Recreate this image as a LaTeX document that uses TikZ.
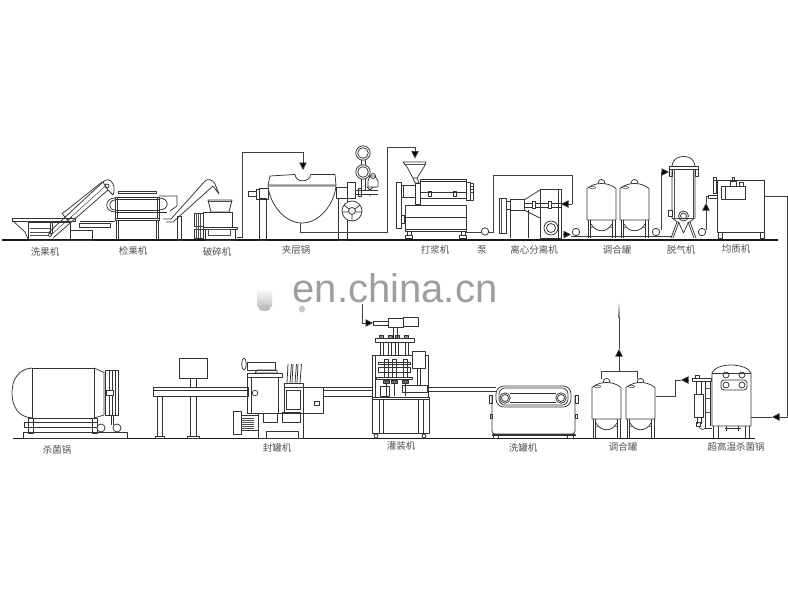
\documentclass[tikz,border=0pt]{standalone}
\usepackage{fontspec}
\setmainfont{Liberation Sans}
\newfontfamily\cjk{Noto Sans CJK SC}
\usetikzlibrary{arrows.meta}
\tikzset{
  mach/.style={draw=black!80,line width=0.75pt,line join=round},
  thin mach/.style={draw=black!70,line width=0.5pt},
  ground/.style={draw=black!90,line width=1.5pt},
  pipe/.style={draw=black!75,line width=0.75pt},
  flow/.style={pipe,-{Triangle[length=7.5pt,width=7.5pt,fill=black]}},
  lab/.style={font=\cjk\fontsize{9.5}{10}\selectfont,text=black!68,inner sep=0pt},
  wmark/.style={font=\fontsize{40}{40}\selectfont,text=black!38,inner sep=0pt,anchor=base},
}
\newcommand{\fruittank}[3]{%
 \begin{scope}[shift={(#1,#2)}]
  \draw[mach,fill=white] (11,1) -- (12,-2.5) .. controls (13,-4) and (16,-4) .. (17,-2.5) -- (18,1);
  \draw[mach,fill=white] (0,5.5) .. controls (5,1.5) and (10,0.5) .. (14.5,0.5) .. controls (19,0.5) and (24,1.5) .. (29,5.5) -- (29,37) -- (0,37) -- cycle;
  \draw[thin mach] (5.5,4.5) ellipse[x radius=3.2,y radius=1.2];
  \draw[mach] (1,37) -- (1,#3) (3.5,37) -- (3.5,#3) (25.5,37) -- (25.5,#3) (28,37) -- (28,#3);
  \draw[mach] (4,41) .. controls (9,50) and (20,50) .. (25,41);
  \draw[thin mach] (3.5,45) -- (6,44) (25.5,45) -- (23,44);
 \end{scope}}
\newcommand{\smallpump}[2]{\draw[mach,fill=white] (#1,#2) circle[radius=3.7];}
\begin{document}
\begin{tikzpicture}[x=1pt,y=-1pt]
\useasboundingbox (0,0) rectangle (788,600);
\fill[white] (0,0) rectangle (788,600);

% watermark and smudges
\node[wmark] (wm) at (395,302) {en.china.cn};
\shade[top color=white,bottom color=black!22] (257,288) rectangle (272,306);
\fill[black!25] (264.5,308) ellipse[x radius=6,y radius=3];
\fill[black!22] (302,309) ellipse[x radius=3,y radius=3.5];

% ===== top ground
\draw[ground] (2,240) -- (778,240);

% ===== washer
\draw[mach] (12,218) rectangle (75,221);
\draw[mach] (13,221) -- (25,232) -- (28,239);
\draw[mach] (28,222) rectangle (70,240);
\draw[thin mach] (30,228) -- (50,228) (30,232) -- (50,232) (30,235) -- (50,235);
\draw[mach] (50,221) rectangle (52.5,233);
\draw[mach] (48,233) -- (103,182) (53,238) -- (108,190);
\draw[thin mach] (50.5,235.5) -- (105.5,186);
\draw[mach] (67,210) -- (102,182);
\draw[mach] (67,210) -- (62,213.5) -- (68,220.5) -- (72,217);
\draw[mach,fill=white] (103,182) .. controls (106,178.5) and (111,179) .. (113,184) .. controls (115,188) and (114,192) .. (113,195) -- (108,190) -- cycle;
\draw[mach] (107,186) circle[radius=2];
\draw[mach,fill=white] (50,235) circle[radius=1.8];
\draw[mach] (70,230) rectangle (92,240);
\draw[mach] (79,223.5) rectangle (110,227);
\draw[mach] (90,221) -- (115,221) (80,221.5) -- (90,221.5);

% ===== inspector
\draw[mach] (118,191) rectangle (156,193);
\draw[mach] (115,197) rectangle (159,218);
\draw[mach] (115,199.5) -- (159,199.5) (115,210) -- (159,210) (115,212) -- (159,212);
\draw[mach] (117,197) -- (117,218) (157,197) -- (157,218);
\draw[mach] (115,218) rectangle (159,220.5);
\draw[mach] (116,220.5) -- (116,240) (118,220.5) -- (118,240) (156,220.5) -- (156,240) (158,220.5) -- (158,240);
\draw[mach] (115,198) .. controls (104,198) and (104,212) .. (115,212);
\draw[mach] (115,200) .. controls (108,200) and (108,210) .. (115,210);
\draw[mach] (159,198) .. controls (170,198) and (170,210) .. (159,210);
\draw[mach] (159,196) -- (177,196) -- (177,206) -- (170,211);
\draw[mach] (159,212) -- (167,212);

% ===== conveyor 3
\draw[mach] (163,219) -- (171,219) -- (205,181) (166,222) -- (173,222) -- (213,186);
\draw[mach] (205,181) .. controls (208,178) and (213,180) .. (215,184) -- (219,194) -- (213,186);
\draw[mach] (177,216) rectangle (181,240);

% ===== crusher
\draw[mach] (208,200) -- (232,200) -- (229,212) -- (211,212) -- cycle;
\draw[thin mach] (208,201.5) -- (232,201.5);
\draw[mach] (203,212) rectangle (232,227);
\draw[mach] (203,227) rectangle (237,229.5);
\draw[mach] (205,229.5) rectangle (235,240);
\draw[thin mach] (208,229.5) rectangle (230,235);
\draw[mach] (194,213) rectangle (203,226);
\draw[mach] (194,229) rectangle (203,238);
\draw[thin mach] (196,213) -- (196,238) (198,213) -- (198,238) (200,213) -- (200,238);

% ===== pipe crusher -> kettle
\coordinate (crushout) at (236.5,237);
\coordinate (kettlein) at (303,170);
\draw[pipe] (crushout) -- (242,237) -- (242,152) -- (303,152);
\draw[flow] (303,152) -- (kettlein);

% ===== kettle
\draw[mach] (259,198) rectangle (266,240);
\draw[mach] (338,198) rectangle (347,240);
\draw[mach,fill=white] (268,186) .. controls (270,205) and (285,223) .. (302,223) .. controls (319,223) and (334,205) .. (336,186) -- cycle;
\draw[mach,fill=white] (268,185) -- (270,176) -- (295,174.5) .. controls (296,183) and (309,183) .. (311,174.5) -- (335,174.5) -- (336,185) -- cycle;
\draw[mach] (248,191) rectangle (256,196);
\draw[mach] (256,189) rectangle (259,199);
\draw[mach] (259,188) rectangle (268,199);
\draw[mach] (336,187) rectangle (347,198);
\draw[mach] (347,182) rectangle (355,198);
\draw[mach,fill=white] (352,211) circle[radius=10];
\draw[mach] (352,211) circle[radius=3.5];
\draw[mach] (344,205) -- (349,209) (360,205) -- (355,209) (352,221) -- (352,214.5) (342,212) -- (348.5,212) (362,212) -- (355.5,212);

% gauges and valves
\draw[mach] (363,153) circle[radius=7.2];
\draw[mach] (363,153) circle[radius=5.3];
\draw[mach] (363,172) circle[radius=7.2];
\draw[mach] (363,172) circle[radius=5.3];
\draw[mach] (361,160) -- (361,165) (365,160) -- (365,165);
\draw[mach] (361,179) -- (361,190) (365,179) -- (365,190);
\draw[mach] (355,190) -- (378,190) (355,194) -- (378,194);
\draw[mach] (358,188) rectangle (361,196);
\draw[mach] (367,187) -- (370,190) -- (373,187) -- (376,187) (370,194) -- (370,196);
\draw[mach,fill=white] (370,176) -- (375,176) -- (378,181) -- (378,187) -- (368,187) -- (368,181) -- cycle;
\draw[mach] (373,176) circle[radius=2.5];

% ===== pipe kettle -> pulper
\coordinate (kettleout) at (300,223);
\coordinate (pulperin) at (415,158.5);
\draw[pipe] (kettleout) -- (300,232) -- (387,232) -- (387,147) -- (415,147);
\draw[flow] (415,147) -- (pulperin);

% ===== pulper
\draw[mach,fill=white] (403,162) -- (426,162) -- (424,167) -- (417,178) -- (413,178) -- (407,167) -- cycle;
\draw[thin mach] (403.5,164) -- (425.5,164);
\draw[mach] (413,178) -- (415,183) -- (419,183) -- (417,178);
\draw[mach] (420,179) rectangle (466,198);
\draw[mach] (420,181.5) -- (466,181.5) (420,192) -- (466,192);
\draw[mach] (428,191) rectangle (431,196);
\draw[mach] (453,191) rectangle (456,196);
\draw[mach] (466,182) rectangle (470,200);
\draw[mach] (470,183) rectangle (473,200);
\draw[thin mach] (470,186) -- (473,186) (470,189) -- (473,189) (470,192) -- (473,192);
\draw[mach] (396,182) rectangle (401,228);
\draw[mach] (401,185) rectangle (415,197);
\draw[mach] (403,185) -- (403,197);
\draw[mach] (415,183) rectangle (420,204);
\draw[mach] (405,205) rectangle (466,229);
\draw[mach] (405,217) -- (466,217);
\draw[mach] (405,229) rectangle (466,231);
\draw[mach] (401,215) rectangle (404,223);
\draw[mach] (407,231) -- (407,235) (411,231) -- (411,235) (405,235) rectangle (412,238);
\draw[mach] (461,231) -- (461,235) (465,231) -- (465,235) (459,235) rectangle (466,238);

% ===== pump and centrifuge circuit
\coordinate (pumpone) at (485,231.5);
\coordinate (sepin) at (561,204);
\draw[pipe] (466,232) -- (493,232) -- (493,175) -- (572,175) -- (572,204);
\draw[flow] (572,204) -- (sepin);
\smallpump{485}{231.5}

% centrifuge
\draw[mach] (499,198) rectangle (506,233);
\draw[thin mach] (501,198) -- (501,233);
\draw[mach] (506,201) rectangle (510,209);
\draw[mach] (510,199) rectangle (524,210);
\draw[mach] (510,210) -- (510,238) (528,210) -- (528,238);
\draw[mach] (524,200) -- (540,190) (524,210) -- (540,218);
\draw[mach] (540,189) rectangle (561,238);
\draw[mach] (558,189) -- (558,238);
\draw[mach] (524,203) -- (561,203) (524,207) -- (561,207);
\draw[mach,fill=white] (532,201) rectangle (535,208.5);
\draw[mach,fill=white] (548,201) rectangle (551,208.5);
\draw[mach] (551,228) circle[radius=7];
\draw[mach] (551,228) circle[radius=4.5];

% ===== centrifuge -> tanks
\coordinate (sepout) at (571,234.5);
\draw[flow] (563,234.5) -- (sepout);
\draw[pipe] (571,236) -- (672,236);
\smallpump{576}{232}

% ===== tanks top
\fruittank{587}{183}{55}
\fruittank{620}{183}{55}

% ===== tanks -> deaerator
\coordinate (deairin) at (669,172);
\draw[pipe] (661,230) -- (661,172);
\draw[flow] (661,172) -- (deairin);
\smallpump{656}{232}

% deaerator
\draw[mach,fill=white] (672,166) .. controls (673,158) and (679,156.5) .. (683.5,156.5) .. controls (688,156.5) and (694,158) .. (695,166);
\draw[mach] (669,166) rectangle (698,169);
\draw[mach] (669,169) rectangle (672,176);
\draw[mach] (695,169) rectangle (698,176);
\draw[mach] (672,169) -- (672,218) -- (679,223) -- (683.5,233) -- (688,223) -- (695,218) -- (695,169);
\draw[thin mach] (674,169) -- (674,218) (693,169) -- (693,218) (672,218) -- (695,218);
\draw[mach] (683.5,216) circle[radius=5];
\draw[mach] (683.5,216) circle[radius=3];
\draw[mach,fill=white] (668,210) rectangle (672,216);
\draw[mach] (677,222) -- (671,238) (679,222) -- (673,238) (690,222) -- (696,238) (688,222) -- (694,238);

% ===== deaerator -> homogeniser
\coordinate (homogin) at (706,203);
\draw[pipe] (706,230) -- (706,212);
\draw[flow] (706,212) -- (homogin);
\draw[pipe] (706,203) -- (706,196) -- (709,196);
\smallpump{702}{232}

% homogeniser
\draw[mach] (717,180) rectangle (764,232);
\draw[mach] (718,232) rectangle (722,238);
\draw[mach] (760,232) rectangle (764,238);
\draw[mach,fill=white] (721,186) rectangle (745,199);
\draw[mach] (725,186) -- (725,199);
\draw[mach] (708,195) rectangle (717,198.5);
\draw[mach] (713,177) rectangle (716,193);
\draw[mach] (714,180) -- (745,180);
\draw[mach] (730,181) rectangle (736,186);
\draw[mach] (732,177) rectangle (734,181);
\draw[mach] (739,182) rectangle (743,186);

% ===== long pipe to UHT
\coordinate (homogout) at (764,196);
\coordinate (uhtin) at (772,417);
\draw[pipe] (homogout) -- (787,196) -- (787,417) -- (779.5,417);
\draw[flow] (779.5,417) -- (uhtin);
\draw[pipe] (772,417) -- (751,417);

% ===== bottom ground
\draw[ground] (13,438.5) -- (755,438.5);

% ===== sterilizer
\draw[mach] (32,368) .. controls (18,369) and (12,380) .. (12,393) .. controls (12,406) and (18,417) .. (32,418);
\draw[mach] (32,368) rectangle (94,418);
\draw[mach] (94,368) -- (103,372) -- (104,372) -- (104,415) -- (94,418);
\draw[mach] (105,370) rectangle (118,415);
\draw[mach] (109,370) -- (109,415) (112,370) -- (112,415) (115,370) -- (115,415);
\draw[mach,fill=white] (106,390) rectangle (113,395);
\draw[mach] (24,422) rectangle (97,427);
\draw[mach] (28,418) rectangle (33,433);
\draw[mach] (92,418) rectangle (97,433);
\draw[mach,fill=white] (101,428) circle[radius=4];
\draw[mach,fill=white] (117,428) circle[radius=4];
\draw[mach] (111,415) -- (111,425) (113,415) -- (113,425);
\draw[mach] (23,432) rectangle (127,438.5);

% ===== table
\draw[mach] (179,358) rectangle (207,378);
\draw[mach] (190,378) rectangle (196,387);
\draw[mach] (153,387) rectangle (248,396);
\draw[mach] (153,390) -- (248,390);
\draw[mach] (157,396) rectangle (162,436);
\draw[mach] (155,436) rectangle (164,438.5);
\draw[mach] (190,396) rectangle (196,436);
\draw[mach] (187,436) rectangle (199,438.5);

% ===== seamer
\draw[mach] (244,364) ellipse[x radius=2.2,y radius=6];
\draw[mach] (247,362) rectangle (275,370);
\draw[mach] (257,370) -- (277,370) -- (277,373) -- (255,373) -- cycle;
\draw[mach] (247,373) rectangle (282,377);
\draw[mach] (247,377) rectangle (278,413);
\draw[mach] (251,377) -- (251,413);
\draw[mach] (255,393) circle[radius=2.8];
\draw[mach,fill=white] (233,411) rectangle (241,434);
\draw[mach,fill=white] (241,415) rectangle (258,430);
\foreach \yy in {418,420,422,424,426,428} {\draw[thin mach] (241,\yy) -- (254,\yy);}
\draw[mach] (258,413) rectangle (303,438.5);
\draw[mach] (263,413) rectangle (277,422);
\draw[mach] (282,412) rectangle (300,422);
\draw[mach] (266,431) rectangle (298,438.5);
\draw[mach] (284,387) rectangle (303,413);
\draw[mach] (286,390) rectangle (300,409);
\draw[mach] (284,383) rectangle (303,387);
\foreach \xx/\dd in {287/289,292/294,297/299} {\draw[mach] (\xx,383) -- (\xx+1,364) (\dd+1,383) -- (\dd+2.5,364);}
\draw[mach] (303,387) rectangle (323,413);
\draw[mach] (314,401) rectangle (319,405);

% ===== rails
\draw[mach] (323,387) -- (372,387) (323,390) -- (372,390) (323,396) -- (372,396);
\draw[mach] (428,387) -- (496,387) (428,391) -- (496,391);

% ===== filler
\draw[mach] (372,399) rectangle (429,433);
\draw[mach] (372,397) rectangle (429,399);
\draw[mach] (379,399) -- (379,433) (383,399) -- (383,433) (418,399) -- (418,433) (423,399) -- (423,433);
\draw[mach] (376,436) circle[radius=2];
\draw[mach] (424,436) circle[radius=2];
\draw[mach] (372,355) rectangle (428,397);
\draw[mach] (375,355) -- (375,397);
\draw[mach,fill=white] (412,351) rectangle (425,368);
\draw[mach] (420,368) -- (420,386) (417,368) -- (417,386);
\draw[mach,fill=white] (402,385) rectangle (427,392);
\draw[mach,fill=white] (376,377) rectangle (412,379.5);
\draw[mach] (378,362) rectangle (410,364);
\draw[mach] (378,367) rectangle (410,372);
\foreach \xx in {384,392,403} {
  \draw[mach] (\xx,359) rectangle (\xx+4,377);
  \draw[mach,fill=black!60] (\xx-1,380) rectangle (\xx+5,383);
  \draw[mach] (\xx+2,383) -- (\xx+2,396);
}
\draw[mach] (380,386) rectangle (389,396);
\draw[mach] (375,338) rectangle (414,342);
\foreach \xx in {381.5,390,397,406.5} {
  \draw[mach] (\xx-1.5,342) -- (\xx-1.5,355) (\xx+1.5,342) -- (\xx+1.5,355);
  \draw[mach,fill=black!45] (\xx-2,335) rectangle (\xx+2,338);
}
\draw[mach] (393,327) rectangle (397,338);
\draw[mach] (388,318) rectangle (403,327);
\draw[mach] (403,317) rectangle (418,326);
\draw[mach] (373,321) rectangle (388,325);

% ===== pipe into filler head
\coordinate (tankriser) at (619,349);
\coordinate (fillerin) at (373,323);
\draw[pipe] (362,304) -- (362,323) -- (366,323);
\draw[flow] (366,323) -- (fillerin);

% ===== can washer
\draw[mach,rounded corners=8pt] (496,386) rectangle (571,407);
\draw[mach,rounded corners=6pt] (499,388) rectangle (568,405);
\draw[mach] (505,398) circle[radius=5.2];
\draw[mach] (505,398) circle[radius=3.5];
\draw[mach] (561,398) circle[radius=5.2];
\draw[mach] (561,398) circle[radius=3.5];
\draw[mach] (510,393.5) -- (556,393.5) (510,402) -- (556,402);
\draw[mach,rounded corners=3pt] (492,395) -- (492,434) -- (575,434) -- (575,395);
\draw[mach] (492,434) rectangle (575,435.5);
\draw[mach] (489,395) rectangle (492,403);
\draw[mach] (575,395) rectangle (578,403);
\draw[mach] (490,414) rectangle (492,418);
\draw[mach] (575,414) rectangle (577,418);
\draw[mach] (493,435.5) rectangle (498,438);
\draw[mach] (567,435.5) rectangle (573,438);

% ===== tanks bottom
\fruittank{592}{382}{56}
\fruittank{626}{382}{56}

% ===== tank risers
\draw[pipe] (601,379) -- (601,371) -- (637,371) -- (637,379);
\draw[pipe] (619,371) -- (619,356.5);
\draw[flow] (619,356.5) -- (tankriser);
\shade[top color=white,bottom color=black!60] (618.6,302) rectangle (619.4,318);
\draw[pipe] (619,318) -- (619,349);

% ===== tank -> UHT
\coordinate (uhtback) at (681,380);
\draw[pipe] (656,396) -- (675,396) -- (675,380) -- (681,380);
\draw[flow] (688.5,380) -- (uhtback);

% ===== UHT
\draw[mach] (712,373) .. controls (714,368) and (722,365) .. (731,365) .. controls (740,365) and (749,368) .. (751,373) -- (751,426) -- (712,426) -- cycle;
\draw[mach] (712,373) -- (751,373);
\draw[mach] (726,375) circle[radius=3];
\draw[mach] (742,375) circle[radius=3];
\draw[mach,rounded corners=3pt] (721,380) rectangle (747,390);
\draw[mach] (726,385) circle[radius=3];
\draw[mach] (742,385) circle[radius=3];
\draw[mach] (713,426) -- (713,438) (718,426) -- (718,438) (745,426) -- (745,438) (749,426) -- (749,438);
\draw[mach] (726,426) -- (726,431) (738,426) -- (738,431) (725,428) -- (741,428);
\draw[mach] (692,378) rectangle (711,381);
\draw[mach] (695,375) rectangle (699,378);
\draw[mach] (696,381) -- (696,394) (701,381) -- (701,394);
\draw[mach] (694,394) rectangle (703,417);
\draw[mach] (697,417) -- (697,424) (701,417) -- (701,424);
\draw[mach] (696,422) rectangle (700,426);
\draw[mach] (705,381) -- (705,428) -- (712,428) (710,381) -- (710,426);
\draw[mach] (699,426) .. controls (699,430) and (705,430) .. (705,428);
\draw[thin mach] (705,388) -- (710,388) (705,398) -- (710,398) (705,412) -- (710,412);

% ===== labels
\node[lab] (a1) at (45,252) {洗果机};
\node[lab] (a2) at (133,251) {检果机};
\node[lab] (a3) at (217,251.5) {破碎机};
\node[lab] (a4) at (296,250) {夹层锅};
\node[lab] (a5) at (435,250) {打浆机};
\node[lab] (a6) at (482,250) {泵};
\node[lab] (a7) at (534,250) {离心分离机};
\node[lab] (a8) at (617,250) {调合罐};
\node[lab] (a9) at (681,250) {脱气机};
\node[lab] (a10) at (736,248.5) {均质机};
\node[lab] (b1) at (57,450) {杀菌锅};
\node[lab] (b2) at (277,448) {封罐机};
\node[lab] (b3) at (401,446) {灌装机};
\node[lab] (b4) at (523,448) {洗罐机};
\node[lab] (b5) at (623,447) {调合罐};
\node[lab] (b6) at (736,447) {超高温杀菌锅};
\end{tikzpicture}
\end{document}
